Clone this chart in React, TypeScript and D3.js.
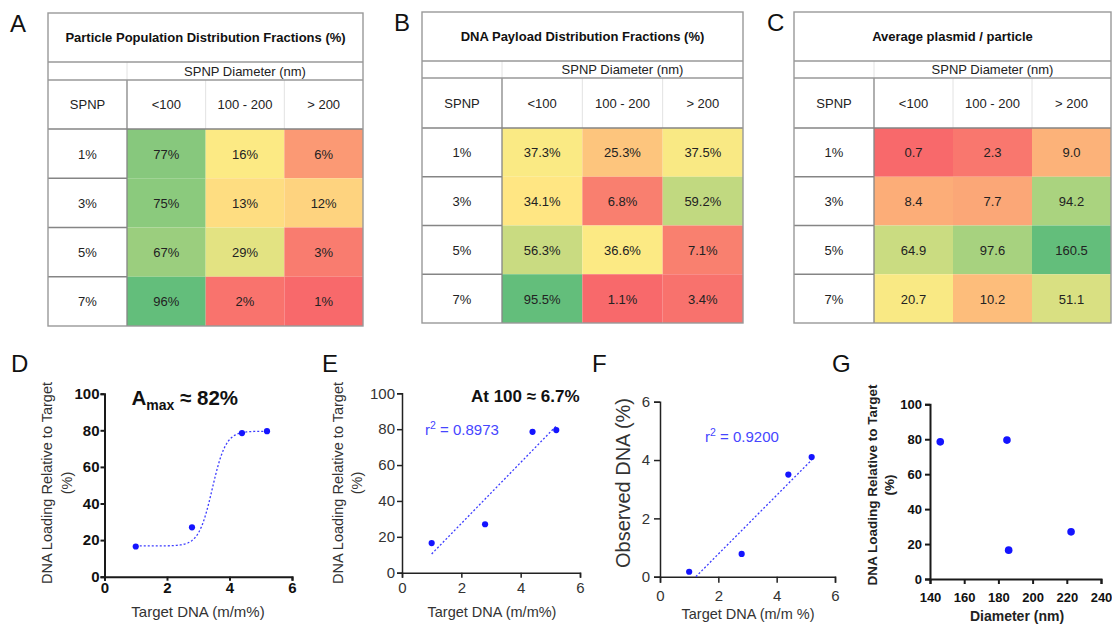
import React, { useEffect, useRef } from 'react';
import * as d3 from 'd3';

// table data
const spnpRows = ['1%', '3%', '5%', '7%'];
const diameterBins = ['<100', '100 - 200', '> 200'];
const populationFractions = [[77, 16, 6], [75, 13, 12], [67, 29, 3], [96, 2, 1]];
const payloadFractions = [[37.3, 25.3, 37.5], [34.1, 6.8, 59.2], [56.3, 36.6, 7.1], [95.5, 1.1, 3.4]];
const plasmidPerParticle = [[0.7, 2.3, 9.0], [8.4, 7.7, 94.2], [64.9, 97.6, 160.5], [20.7, 10.2, 51.1]];

// scatter data
const targetDNA = [1, 2.8, 4.4, 5.2];
const loadingRelative = [16.5, 27, 78.5, 79.5];
const observedDNA = [0.17, 0.78, 3.5, 4.1];
const particleDiameter = [186, 222.5, 146, 185];

// sigmoid fit shown in D
const fitBottom = 16.8;
const fitTop = 79.5;
const fitX50 = 3.45;
const fitHill = 2;

const r2Labels = ['0.8973', '0.9200'];

const FONT = 'Liberation Sans, Arial, sans-serif';
const BLUE = '#1414ff';
const LINE_BLUE = '#3c3cff';

const App = () => {
    const ref = useRef<SVGSVGElement>(null);

    useEffect(() => {
        const svg = d3.select(ref.current);
        svg.selectAll('*').remove();
        svg.append('rect').attr('width', 1112).attr('height', 625).attr('fill', '#fff');

        // ---------- tables ----------
        const drawTable = (t: any) => {
            const g = svg.append('g').attr('font-family', FONT);
            const colX = d3.scaleBand().domain(diameterBins).range([t.left + t.labelW, t.right]);
            const rowY = d3.scaleBand().domain(spnpRows).range([t.headBottom, t.bottom]);
            const flat: number[] = t.values.flat();
            // excel style 3 colour scale: min / 50th percentile / max
            const color = d3.scaleLinear<string>()
                .domain([d3.min(flat)!, d3.median(flat)!, d3.max(flat)!])
                .range(['#F8696B', '#FFEB84', '#63BE7B']);

            const cells = t.values.flatMap((row: number[], i: number) =>
                row.map((v, j) => ({ row: spnpRows[i], col: diameterBins[j], v })));

            g.selectAll('rect.cell').data(cells).join('rect')
                .attr('class', 'cell')
                .attr('x', (d: any) => colX(d.col)!)
                .attr('y', (d: any) => rowY(d.row)!)
                .attr('width', colX.bandwidth())
                .attr('height', rowY.bandwidth())
                .attr('fill', (d: any) => color(d.v));

            g.selectAll('text.cell').data(cells).join('text')
                .attr('class', 'cell')
                .attr('x', (d: any) => colX(d.col)! + colX.bandwidth() / 2)
                .attr('y', (d: any) => rowY(d.row)! + rowY.bandwidth() / 2)
                .attr('dy', '0.38em')
                .attr('text-anchor', 'middle')
                .attr('font-size', 13)
                .attr('fill', '#222')
                .text((d: any) => t.fmt(d.v));

            // row labels
            g.selectAll('text.row').data(spnpRows).join('text')
                .attr('class', 'row')
                .attr('x', t.left + t.labelW / 2)
                .attr('y', d => rowY(d)! + rowY.bandwidth() / 2)
                .attr('dy', '0.38em')
                .attr('text-anchor', 'middle')
                .attr('font-size', 13)
                .attr('fill', '#222')
                .text(d => d);

            // column header
            g.selectAll('text.col').data(diameterBins).join('text')
                .attr('class', 'col')
                .attr('x', d => colX(d)! + colX.bandwidth() / 2)
                .attr('y', (t.subBottom + t.headBottom) / 2)
                .attr('dy', '0.38em')
                .attr('text-anchor', 'middle')
                .attr('font-size', 13)
                .attr('fill', '#222')
                .text(d => d);
            g.append('text')
                .attr('x', t.left + t.labelW / 2)
                .attr('y', (t.subBottom + t.headBottom) / 2)
                .attr('dy', '0.38em')
                .attr('text-anchor', 'middle')
                .attr('font-size', 13)
                .attr('fill', '#222')
                .text('SPNP');
            g.append('text')
                .attr('x', (t.left + t.labelW + t.right) / 2)
                .attr('y', (t.titleBottom + t.subBottom) / 2)
                .attr('dy', '0.36em')
                .attr('text-anchor', 'middle')
                .attr('font-size', 13)
                .attr('fill', '#222')
                .text('SPNP Diameter (nm)');
            g.append('text')
                .attr('x', (t.left + t.right) / 2)
                .attr('y', (t.top + t.titleBottom) / 2)
                .attr('dy', '0.36em')
                .attr('text-anchor', 'middle')
                .attr('font-size', 13)
                .attr('font-weight', 'bold')
                .attr('fill', '#111')
                .text(t.title);

            // grid lines
            const light = '#e2e2e2';
            const dark = '#858585';
            const line = (x1: number, y1: number, x2: number, y2: number, c: string, w: number) =>
                g.append('line').attr('x1', x1).attr('y1', y1).attr('x2', x2).attr('y2', y2)
                    .attr('stroke', c).attr('stroke-width', w);
            diameterBins.slice(1).forEach(c => line(colX(c)!, t.subBottom, colX(c)!, t.headBottom, light, 1));
            line(t.left + t.labelW, t.titleBottom, t.left + t.labelW, t.subBottom, light, 1);
            line(t.left + t.labelW, t.subBottom, t.left + t.labelW, t.bottom, dark, 1.3);
            spnpRows.slice(1).forEach(r => line(t.left, rowY(r)!, t.left + t.labelW, rowY(r)!, dark, 1.3));
            line(t.left, t.headBottom, t.right, t.headBottom, dark, 1.3);
            line(t.left, t.subBottom, t.right, t.subBottom, '#999', 1.3);
            line(t.left, t.titleBottom, t.right, t.titleBottom, '#999', 1.3);
            g.append('rect')
                .attr('x', t.left).attr('y', t.top)
                .attr('width', t.right - t.left).attr('height', t.bottom - t.top)
                .attr('fill', 'none').attr('stroke', '#999').attr('stroke-width', 1.4);
        };

        drawTable({
            left: 48, right: 363, top: 13, titleBottom: 62, subBottom: 80, headBottom: 129, bottom: 326, labelW: 79,
            title: 'Particle Population Distribution Fractions (%)',
            values: populationFractions, fmt: (v: number) => `${v}%`
        });
        drawTable({
            left: 422, right: 743, top: 12, titleBottom: 61, subBottom: 78, headBottom: 128, bottom: 323, labelW: 80,
            title: 'DNA Payload Distribution Fractions (%)',
            values: payloadFractions, fmt: (v: number) => `${v.toFixed(1)}%`
        });
        drawTable({
            left: 794, right: 1111, top: 12, titleBottom: 61, subBottom: 78, headBottom: 128, bottom: 323, labelW: 80,
            title: 'Average plasmid / particle',
            values: plasmidPerParticle, fmt: (v: number) => v.toFixed(1)
        });

        // panel letters
        const letters = [
            ['A', 10, 32], ['B', 394, 31], ['C', 767, 31],
            ['D', 11, 372], ['E', 322, 372], ['F', 592, 372], ['G', 832, 372]
        ];
        svg.selectAll('text.letter').data(letters).join('text')
            .attr('class', 'letter')
            .attr('x', d => d[1])
            .attr('y', d => d[2])
            .attr('font-family', FONT)
            .attr('font-size', 24)
            .attr('fill', '#111')
            .text(d => d[0] as string);

        // ---------- scatter plots ----------
        const drawPlot = (o: any) => {
            const x = d3.scaleLinear().domain(o.xDomain).range(o.xRange);
            const y = d3.scaleLinear().domain(o.yDomain).range(o.yRange);
            const g = svg.append('g');
            const fmt = (d: any) => String(d);
            const gx = g.append('g')
                .attr('transform', `translate(0,${o.yRange[0]})`)
                .call(d3.axisBottom(x).tickValues(o.xTicks).tickFormat(fmt)
                    .tickSizeOuter(0).tickSize(o.tick).tickPadding(o.xPad));
            const gy = g.append('g')
                .attr('transform', `translate(${o.xRange[0]},0)`)
                .call(d3.axisLeft(y).tickValues(o.yTicks).tickFormat(fmt)
                    .tickSizeOuter(0).tickSize(o.tick).tickPadding(o.yPad));
            [gx, gy].forEach(a => {
                a.selectAll('.domain, .tick line').attr('stroke', o.axisColor).attr('stroke-width', o.axisW);
                a.selectAll('.tick text')
                    .attr('font-family', FONT)
                    .attr('font-size', o.tickFont)
                    .attr('font-weight', o.bold ? 'bold' : 'normal')
                    .attr('fill', o.tickColor);
            });
            // y label
            o.yLabel.forEach((s: string, i: number) => {
                g.append('text')
                    .attr('transform', `translate(${o.yLabelX[i]},${o.yLabelY}) rotate(-90)`)
                    .attr('text-anchor', 'middle')
                    .attr('font-family', FONT)
                    .attr('font-size', o.yLabelFont)
                    .attr('font-weight', o.labelBold ? 'bold' : 'normal')
                    .attr('fill', o.labelColor)
                    .text(s);
            });
            g.append('text')
                .attr('x', o.xLabelX)
                .attr('y', o.xLabelY)
                .attr('text-anchor', 'middle')
                .attr('font-family', FONT)
                .attr('font-size', o.xLabelFont)
                .attr('font-weight', o.labelBold ? 'bold' : 'normal')
                .attr('fill', o.labelColor)
                .text(o.xLabel);
            return { g, x, y };
        };

        const dots = (g: any, x: any, y: any, xs: number[], ys: number[], r: number) => {
            g.selectAll('circle.pt').data(xs.map((v, i) => [v, ys[i]])).join('circle')
                .attr('class', 'pt')
                .attr('cx', (d: number[]) => x(d[0]))
                .attr('cy', (d: number[]) => y(d[1]))
                .attr('r', r)
                .attr('fill', BLUE);
        };

        const linearFit = (xs: number[], ys: number[]) => {
            const mx = d3.mean(xs)!;
            const my = d3.mean(ys)!;
            const sxy = d3.sum(xs, (v, i) => (v - mx) * (ys[i] - my));
            const sxx = d3.sum(xs, v => (v - mx) ** 2);
            const slope = sxy / sxx;
            return { slope, intercept: my - slope * mx };
        };

        const r2Text = (g: any, px: number, py: number, val: string) => {
            const t = g.append('text')
                .attr('x', px).attr('y', py)
                .attr('font-family', FONT)
                .attr('font-size', 15)
                .attr('fill', '#4646ff');
            t.append('tspan').text('r');
            t.append('tspan').attr('dy', -6).attr('font-size', 10.5).text('2');
            t.append('tspan').attr('dy', 6).text(` = ${val}`);
        };

        // D
        const D = drawPlot({
            xDomain: [0, 6], xRange: [104.5, 292], yDomain: [0, 100], yRange: [576.7, 393.7],
            xTicks: [0, 2, 4, 6], yTicks: [0, 20, 40, 60, 80, 100],
            tick: 4, xPad: 2, yPad: 1, axisColor: '#1a1a1a', axisW: 2,
            tickFont: 15, bold: true, tickColor: '#111', labelBold: false,
            yLabel: ['DNA Loading Relative to Target', '(%)'], yLabelX: [52, 71.5], yLabelY: 483, yLabelFont: 14.5,
            xLabel: 'Target DNA (m/m%)', xLabelX: 198, xLabelY: 617, xLabelFont: 15, labelColor: '#333'
        });
        const sigmoid = (v: number) => fitBottom + (fitTop - fitBottom) / (1 + Math.pow(10, (fitX50 - v) * fitHill));
        const curveX = d3.range(targetDNA[0], targetDNA[targetDNA.length - 1] + 0.001, 0.02);
        D.g.append('path')
            .attr('d', d3.line<number>().x(v => D.x(v)).y(v => D.y(sigmoid(v)))(curveX))
            .attr('fill', 'none').attr('stroke', LINE_BLUE).attr('stroke-width', 1.3).attr('stroke-dasharray', '2,2');
        dots(D.g, D.x, D.y, targetDNA, loadingRelative, 3.1);
        const dt = D.g.append('text').attr('x', 131.5).attr('y', 405)
            .attr('font-family', FONT).attr('font-weight', 'bold').attr('font-size', 20.5).attr('fill', '#111');
        dt.append('tspan').text('A');
        dt.append('tspan').attr('dy', 5).attr('font-size', 14).text('max');
        dt.append('tspan').attr('dy', -5).text(' ≈ 82%');

        // E
        const E = drawPlot({
            xDomain: [0, 6], xRange: [402, 580], yDomain: [0, 100], yRange: [572.7, 393.3],
            xTicks: [0, 2, 4, 6], yTicks: [0, 20, 40, 60, 80, 100],
            tick: 5, xPad: 5, yPad: 2, axisColor: '#222', axisW: 1.5,
            tickFont: 15, bold: false, tickColor: '#333', labelBold: false,
            yLabel: ['DNA Loading Relative to Target', '(%)'], yLabelX: [343, 362], yLabelY: 483, yLabelFont: 14.5,
            xLabel: 'Target DNA (m/m%)', xLabelX: 492, xLabelY: 617, xLabelFont: 14.5, labelColor: '#333'
        });
        const fe = linearFit(targetDNA, loadingRelative);
        const ex = [targetDNA[0], targetDNA[targetDNA.length - 1]];
        E.g.append('line')
            .attr('x1', E.x(ex[0])).attr('y1', E.y(fe.intercept + fe.slope * ex[0]))
            .attr('x2', E.x(ex[1])).attr('y2', E.y(fe.intercept + fe.slope * ex[1]))
            .attr('stroke', LINE_BLUE).attr('stroke-width', 1.3).attr('stroke-dasharray', '2,2');
        dots(E.g, E.x, E.y, targetDNA, loadingRelative, 3.1);
        r2Text(E.g, 425, 435, r2Labels[0]);
        E.g.append('text').attr('x', 471).attr('y', 402)
            .attr('font-family', FONT).attr('font-weight', 'bold').attr('font-size', 17).attr('fill', '#111')
            .text('At 100 ≈ 6.7%');

        // F
        const F = drawPlot({
            xDomain: [0, 6], xRange: [660, 835], yDomain: [0, 6], yRange: [576.7, 401.7],
            xTicks: [0, 2, 4, 6], yTicks: [0, 2, 4, 6],
            tick: 6, xPad: 8, yPad: 4, axisColor: '#222', axisW: 1.5,
            tickFont: 15, bold: false, tickColor: '#333', labelBold: false,
            yLabel: ['Observed DNA (%)'], yLabelX: [630], yLabelY: 483, yLabelFont: 20,
            xLabel: 'Target DNA (m/m %)', xLabelX: 748, xLabelY: 619, xLabelFont: 14.5, labelColor: '#333'
        });
        const ff = linearFit(targetDNA, observedDNA);
        const fx0 = Math.max(targetDNA[0], -ff.intercept / ff.slope);
        const fx1 = targetDNA[targetDNA.length - 1];
        F.g.append('line')
            .attr('x1', F.x(fx0)).attr('y1', F.y(ff.intercept + ff.slope * fx0))
            .attr('x2', F.x(fx1)).attr('y2', F.y(ff.intercept + ff.slope * fx1))
            .attr('stroke', LINE_BLUE).attr('stroke-width', 1.3).attr('stroke-dasharray', '2,2');
        dots(F.g, F.x, F.y, targetDNA, observedDNA, 3.1);
        r2Text(F.g, 705, 442, r2Labels[1]);

        // G
        const G = drawPlot({
            xDomain: [140, 240], xRange: [930, 1101], yDomain: [0, 100], yRange: [579, 404.3],
            xTicks: [140, 160, 180, 200, 220, 240], yTicks: [0, 20, 40, 60, 80, 100],
            tick: 5, xPad: 9, yPad: 3, axisColor: '#1a1a1a', axisW: 2,
            tickFont: 13, bold: true, tickColor: '#111', labelBold: true,
            yLabel: ['DNA Loading Relative to Target', '(%)'], yLabelX: [877, 894], yLabelY: 485, yLabelFont: 13.5,
            xLabel: 'Diameter (nm)', xLabelX: 1017, xLabelY: 621, xLabelFont: 14, labelColor: '#222'
        });
        dots(G.g, G.x, G.y, particleDiameter, loadingRelative, 3.8);
    }, []);

    return (
        <svg ref={ref} width={1112} height={625} style={{ position: 'absolute', left: 0, top: 0 }} />
    );
};

export default App;
